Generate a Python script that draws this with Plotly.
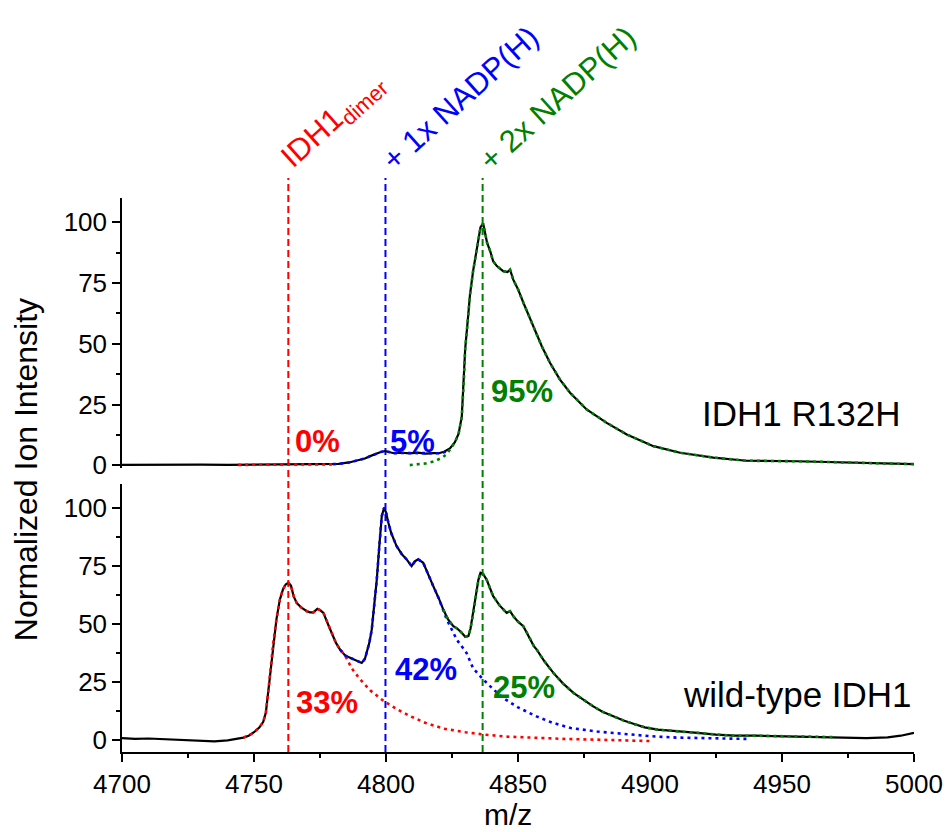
import plotly.graph_objects as go

# ---------------- data ----------------
# Upper panel: IDH1 R132H
top_x = [4700, 4710, 4720, 4730, 4740, 4750, 4760, 4770, 4778, 4782, 4786, 4789,
         4792, 4794, 4796, 4798, 4799.6, 4801, 4803, 4806, 4809, 4812, 4815, 4818,
         4820, 4822, 4824.2, 4826.1, 4827.5, 4828.7, 4829.5, 4830, 4831, 4831.8,
         4833, 4833.7, 4835, 4835.8, 4836.8, 4837.5, 4838.3, 4839.5, 4840.6, 4842,
         4844.4, 4846, 4847, 4848.2, 4850, 4852, 4854, 4855.8, 4859, 4862.1, 4865.9,
         4869.7, 4876, 4883.6, 4891.2, 4901.3, 4911.4, 4924, 4936.6, 4955.6, 4974.5, 5000]
top_y = [0.2, 0.3, 0.2, 0.3, 0.2, 0.3, 0.2, 0.3, 0.4, 0.6, 1.2, 2.0,
         2.8, 3.8, 4.8, 5.5, 5.9, 5.4, 5.0, 5.2, 4.9, 5.2, 4.8, 5.0,
         5.0, 5.6, 7.0, 9.5, 13, 20, 35, 48, 60, 70,
         80, 85, 94, 98, 99.5, 96, 91.5, 88, 84, 82,
         79.9, 79.5, 80.5, 76.4, 72.5, 67, 62, 57.3, 49, 42.2, 35.3,
         29.9, 23, 17.5, 12.7, 7.9, 5.2, 3.2, 1.9, 1.7, 1.1, 0.5]

top_red_x = [4744, 4752, 4760, 4768, 4775, 4781]
top_red_y = [0.2, 0.3, 0.2, 0.3, 0.3, 0.4]

top_blue_x = [4780, 4782, 4786, 4789, 4792, 4794, 4796, 4798, 4799.6, 4801, 4803,
              4806, 4809, 4812, 4815, 4818, 4820, 4822, 4824]
top_blue_y = [0.5, 0.6, 1.2, 2.0, 2.8, 3.8, 4.8, 5.5, 5.9, 5.4, 5.0,
              5.1, 5.0, 5.0, 4.9, 5.0, 5.0, 5.4, 6.2]

top_green_lead_x = [4809, 4812, 4815, 4818, 4821, 4823, 4825]
top_green_lead_y = [0.1, 0.4, 0.8, 1.6, 3.0, 4.6, 7.5]

# Lower panel: wild-type IDH1
bot_x = [4700, 4705, 4710, 4715, 4720, 4725, 4730, 4735, 4740, 4743, 4746, 4748,
         4750, 4752, 4753.5, 4754.5, 4755.5, 4756.5, 4757.3, 4758.5, 4759.8, 4761,
         4762, 4763, 4764, 4765, 4766.2, 4768, 4770, 4771.2, 4772.5, 4774, 4775,
         4776.3, 4778, 4779.4, 4781, 4782.6, 4784.5, 4786.4, 4788.5, 4790.8, 4792,
         4792.7, 4793.7, 4794.6, 4795.5, 4796.5, 4797.5, 4798.4, 4799.3, 4800,
         4800.9, 4802, 4804, 4806, 4807.8, 4809.7, 4811, 4812.2, 4814.1, 4816,
         4817.9, 4820, 4821.7, 4823.5, 4825.5, 4827, 4828.5, 4830, 4831.2, 4832,
         4833.1, 4834, 4835, 4835.8, 4836.8, 4838.1, 4840.6, 4843, 4845.7, 4847,
         4848.2, 4850, 4852, 4854, 4856, 4857.1, 4858, 4860, 4863.4, 4867, 4871,
         4875, 4878.5, 4882, 4886, 4890, 4894, 4898, 4903, 4910, 4918, 4925, 4932,
         4940, 4950, 4960, 4970, 4982, 4990, 4995, 5000]
bot_y = [1.0, 0.6, 0.8, 0.5, 0.2, 0.0, -0.3, -0.4, 0.0, 0.5, 1.2, 2.0,
         3.5, 5.5, 8, 12, 22, 33, 42, 52, 60.5, 65,
         67, 67.8, 66.5, 62, 59, 57, 55.5, 55, 55, 56.5, 56,
         54.8, 50, 46.2, 42, 39, 36.5, 35.5, 34.5, 33.3, 35,
         37.6, 42, 47.6, 57, 69, 84, 96.4, 100, 98,
         93.5, 89, 83.5, 80, 77.8, 74.9, 77, 77.8, 76.3, 71,
         66.3, 61, 56.2, 52, 49.1, 48, 46.5, 44.5, 44.8, 48,
         54.8, 62, 69, 72, 71.5, 69.1, 62, 58, 54.8, 55.5,
         53.4, 51, 49.1, 45, 40.5, 39, 37.5, 34, 29, 24.5, 20.4,
         17.2, 14.6, 12.3, 10.3, 8.5, 7.0, 5.6, 4.6, 3.8, 3.2, 2.5, 2.0,
         2.0, 1.7, 1.6, 1.4, 1.0, 1.3, 2.0, 3.2]

bot_red_tail_x = [4787, 4790, 4794, 4799, 4804, 4809, 4815, 4822, 4830, 4837,
                  4846, 4856, 4868, 4880, 4890, 4900]
bot_red_tail_y = [31, 26.5, 21.5, 17, 13.5, 10.5, 7.5, 5, 3.5, 2.5,
                  1.6, 1.0, 0.6, 0.3, 0.0, -0.3]

bot_blue_tail_x = [4823, 4826.8, 4830.5, 4833, 4836.9, 4840.6, 4844.4, 4850, 4857,
                   4863, 4870, 4880, 4890, 4900, 4910, 4925, 4938]
bot_blue_tail_y = [52, 43.3, 37.6, 31, 26.1, 22, 18.2, 14.2, 10.3,
                   7.6, 5.3, 3.8, 2.8, 1.8, 1.2, 0.8, 0.6]

marker_mz = [4763, 4799.8, 4836.6]
marker_labels = ["IDH1<sub>dimer</sub>", "+ 1x NADP(H)", "+ 2x NADP(H)"]
top_pct = ["0%", "5%", "95%"]
top_pct_pos = [(4774.2, 9.9), (4810.2, 9.9), (4851.5, 30.2)]
bot_pct = ["33%", "42%", "25%"]
bot_pct_pos = [(4777.8, 16.4), (4815.2, 30.4), (4852.3, 22.9)]

RED, BLUE, GREEN = "#ff0000", "#0000ff", "#008000"
COLORS = [RED, BLUE, GREEN]
FONT = "Liberation Sans, Arial, sans-serif"

# fit curves: parts overlapping the measured trace are taken from it
top_green_x = top_green_lead_x + [x for x in top_x if x >= 4826]
top_green_y = top_green_lead_y + [y for x, y in zip(top_x, top_y) if x >= 4826]

bot_red_x = [x for x in bot_x if 4744 <= x <= 4784.5] + bot_red_tail_x
bot_red_y = [y for x, y in zip(bot_x, bot_y) if 4744 <= x <= 4784.5] + bot_red_tail_y
bot_blue_x = [x for x in bot_x if 4782.6 <= x <= 4821.7] + bot_blue_tail_x
bot_blue_y = [y for x, y in zip(bot_x, bot_y) if 4782.6 <= x <= 4821.7] + bot_blue_tail_y
bot_green_x = [x for x in bot_x if 4821.7 <= x <= 4976]
bot_green_y = [y for x, y in zip(bot_x, bot_y) if 4821.7 <= x <= 4976]

fig = go.Figure()
DOT = "3px,4px"

def data_line(x, y, xa, ya):
    fig.add_trace(go.Scatter(x=x, y=y, mode="lines", xaxis=xa, yaxis=ya,
                             line=dict(color="black", width=2.2), showlegend=False,
                             hoverinfo="skip"))

def fit_line(x, y, c, xa, ya):
    fig.add_trace(go.Scatter(x=x, y=y, mode="lines", xaxis=xa, yaxis=ya,
                             line=dict(color=c, width=2.6, dash=DOT), showlegend=False,
                             hoverinfo="skip"))

data_line(top_x, top_y, "x2", "y2")
fit_line(top_red_x, top_red_y, RED, "x2", "y2")
fit_line(top_blue_x, top_blue_y, BLUE, "x2", "y2")
fit_line(top_green_x, top_green_y, GREEN, "x2", "y2")

data_line(bot_x, bot_y, "x", "y")
fit_line(bot_red_x, bot_red_y, RED, "x", "y")
fit_line(bot_blue_x, bot_blue_y, BLUE, "x", "y")
fit_line(bot_green_x, bot_green_y, GREEN, "x", "y")

shapes = []
annotations = []
for mz, lab, c, xs in zip(marker_mz, marker_labels, COLORS, [-17, -13, -13]):
    shapes.append(dict(type="line", xref="x", yref="paper", x0=mz, x1=mz, y0=0, y1=1.036,
                       line=dict(color=c, width=2, dash="7px,4px"), layer="below"))
    annotations.append(dict(x=mz, y=1.05, xref="x", yref="paper", text=lab, showarrow=False,
                            textangle=-42, xanchor="left", yanchor="bottom", xshift=xs,
                            yshift=-10, font=dict(family=FONT, size=31, color=c)))

for t, (px, py), c in zip(top_pct, top_pct_pos, COLORS):
    annotations.append(dict(x=px, y=py, xref="x2", yref="y2", text="<b>%s</b>" % t,
                            showarrow=False, font=dict(family=FONT, size=31, color=c)))
for t, (px, py), c in zip(bot_pct, bot_pct_pos, COLORS):
    annotations.append(dict(x=px, y=py, xref="x", yref="y", text="<b>%s</b>" % t,
                            showarrow=False, font=dict(family=FONT, size=31, color=c)))

annotations.append(dict(x=4995.3, y=21.5, xref="x2", yref="y2", text="IDH1 R132H",
                        showarrow=False, xanchor="right", yanchor="middle",
                        font=dict(family=FONT, size=35, color="black")))
annotations.append(dict(x=5000, y=19.7, xref="x", yref="y", text="wild-type IDH1",
                        showarrow=False, xanchor="right", yanchor="middle",
                        font=dict(family=FONT, size=35, color="black")))
annotations.append(dict(x=0.487, y=-0.112, xref="paper", yref="paper", text="m/z",
                        showarrow=False, xanchor="center", yanchor="middle",
                        font=dict(family=FONT, size=30, color="black")))
annotations.append(dict(x=-0.121, y=0.509, xref="paper", yref="paper",
                        text="Normalized Ion Intensity", textangle=-90,
                        showarrow=False, xanchor="center", yanchor="middle",
                        font=dict(family=FONT, size=32, color="black")))

yax_common = dict(showline=True, linecolor="black", linewidth=1.5, ticks="outside",
                  ticklen=8, tickwidth=1.5, tickcolor="black", tick0=0, dtick=25,
                  showgrid=False, zeroline=False, automargin=False,
                  tickfont=dict(family=FONT, size=26, color="black"),
                  minor=dict(ticks="outside", ticklen=4, tickwidth=1.5, tickcolor="black",
                             dtick=12.5, showgrid=False))

fig.update_layout(
    width=947, height=832,
    margin=dict(l=122, r=33, t=198, b=80, autoexpand=False),
    paper_bgcolor="white", plot_bgcolor="white",
    shapes=shapes, annotations=annotations,
    xaxis=dict(range=[4700, 5000], anchor="y", showline=True, linecolor="black",
               linewidth=1.5, ticks="outside", ticklen=8, tickwidth=1.5, tickcolor="black",
               tick0=4700, dtick=50, showgrid=False, zeroline=False, automargin=False,
               tickfont=dict(family=FONT, size=26, color="black"),
               minor=dict(ticks="outside", ticklen=4, tickwidth=1.5, tickcolor="black",
                          dtick=25, showgrid=False)),
    xaxis2=dict(matches="x", anchor="y2", visible=False, range=[4700, 5000]),
    yaxis=dict(domain=[0, 0.483], range=[-5, 110], anchor="x", **yax_common),
    yaxis2=dict(domain=[0.513, 1.0], range=[-1, 110], anchor="x2", **yax_common),
)

fig.write_html("out.html")
